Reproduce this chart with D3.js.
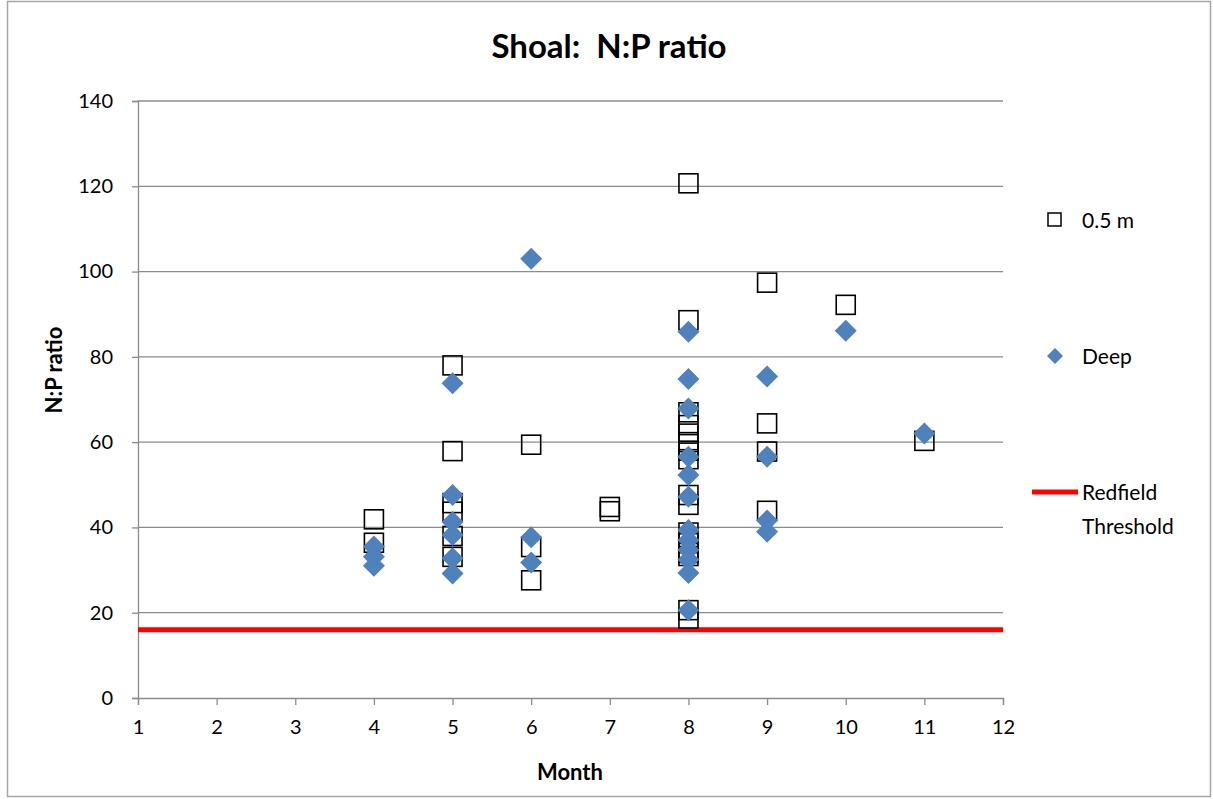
<!DOCTYPE html>
<html><head><meta charset="utf-8">
<script src="https://cdn.jsdelivr.net/npm/d3@7"></script>
<style>body{margin:0;background:#fff}text{font-family:Lato,"Open Sans",sans-serif}</style>
</head><body>
<svg id="c" width="1213" height="799"></svg>
<script>
const shallowMonth = [4,4, 5,5,5,5,5,5, 6,6,6, 7,7, 8,8,8,8,8,8,8,8,8,8,8,8,8,8,8,8, 9,9,9,9, 10, 11];
const shallowValue = [41.9,36.4, 78,57.9,45.7,43.7,38,33.1, 59.4,35.4,27.6, 43.8,44.8,
  120.7,88.6,67,64,62,60,58,56,47.6,45.3,38.8,36.3,34,33.3,20.6,18.6,
  97.4,64.4,57.8,43.9, 92.2, 60.3];
const deepMonth = [4,4,4, 5,5,5,5,5,5, 6,6,6, 8,8,8,8,8,8,8,8,8,8,8,8, 9,9,9,9, 10, 11];
const deepValue = [35.5,33.1,31, 73.8,47.6,41.3,38.2,32.8,29.2, 103,37.7,31.8,
  85.9,74.8,67.9,56.6,52.3,47.2,39.4,37,34.7,32.4,29.3,20.6,
  75.4,56.6,41.6,39, 86.1, 62];
const redfield = 16;
const xTicks = [1,2,3,4,5,6,7,8,9,10,11,12];
const yTicks = [0,20,40,60,80,100,120,140];

const svg = d3.select("#c");
svg.append("rect").attr("x",7.5).attr("y",1.5).attr("width",1203).attr("height",795)
  .attr("fill","#fff").attr("stroke","#a6a6a6").attr("stroke-width",1.5);

const L=138,R=1003,T=101,B=698;
const x=d3.scaleLinear().domain([1,12]).range([L,R]);
const y=d3.scaleLinear().domain([0,140]).range([B,T]);

svg.append("g").selectAll("line").data(yTicks.filter(d=>d>0)).join("line")
  .attr("x1",L).attr("x2",R).attr("y1",d=>y(d)).attr("y2",d=>y(d))
  .attr("stroke","#8c8c8c").attr("stroke-width",1.3);

const xa=svg.append("g").attr("transform",`translate(0,${B})`)
  .call(d3.axisBottom(x).tickValues(xTicks).tickSize(7).tickPadding(15).tickFormat(d3.format("d")));
const ya=svg.append("g").attr("transform",`translate(${L},0)`)
  .call(d3.axisLeft(y).tickValues(yTicks).tickSize(6).tickPadding(19));
[xa,ya].forEach(a=>{
  a.select(".domain").attr("stroke","#8c8c8c").attr("stroke-width",1.3);
  a.selectAll(".tick line").attr("stroke","#8c8c8c").attr("stroke-width",1.3);
  a.selectAll("text").attr("font-size",20).attr("fill","#000").attr("font-family","Lato, sans-serif");
});

svg.append("line").attr("x1",L).attr("x2",R).attr("y1",y(redfield)).attr("y2",y(redfield))
  .attr("stroke","#ff0000").attr("stroke-width",5);

const sq=19;
svg.append("g").selectAll("rect").data(shallowMonth.map((m,i)=>[m,shallowValue[i]])).join("rect")
  .attr("x",d=>x(d[0])-sq/2).attr("y",d=>y(d[1])-sq/2).attr("width",sq).attr("height",sq)
  .attr("fill","none").attr("stroke","#000").attr("stroke-width",1.6);

const dh=11;
svg.append("g").selectAll("path").data(deepMonth.map((m,i)=>[m,deepValue[i]])).join("path")
  .attr("d",d=>{const cx=x(d[0]),cy=y(d[1]);return `M${cx},${cy-dh}L${cx+dh},${cy}L${cx},${cy+dh}L${cx-dh},${cy}Z`;})
  .attr("fill","#4f81bd");

svg.append("text").attr("x",609).attr("y",58).attr("text-anchor","middle").style("white-space","pre")
  .attr("font-size",33).attr("font-weight","bold").text("Shoal:  N:P ratio");
svg.append("text").attr("x",570).attr("y",780).attr("text-anchor","middle")
  .attr("font-size",22).attr("font-weight","bold").text("Month");
svg.append("text").attr("transform","translate(62,370) rotate(-90)").attr("text-anchor","middle")
  .attr("font-size",22).attr("font-weight","bold").text("N:P ratio");

const lg=svg.append("g");
lg.append("rect").attr("x",1048).attr("y",213).attr("width",13).attr("height",13)
  .attr("fill","none").attr("stroke","#000").attr("stroke-width",1.5);
lg.append("text").attr("x",1082).attr("y",228).attr("font-size",21).text("0.5 m");
lg.append("path").attr("d","M1055,348L1063,356L1055,364L1047,356Z").attr("fill","#4f81bd");
lg.append("text").attr("x",1082).attr("y",364).attr("font-size",21).text("Deep");
lg.append("line").attr("x1",1032).attr("x2",1078).attr("y1",492).attr("y2",492)
  .attr("stroke","#ff0000").attr("stroke-width",5);
lg.append("text").attr("x",1082).attr("y",500).attr("font-size",21).text("Redfield");
lg.append("text").attr("x",1082).attr("y",534).attr("font-size",21).text("Threshold");
</script>
</body></html>
